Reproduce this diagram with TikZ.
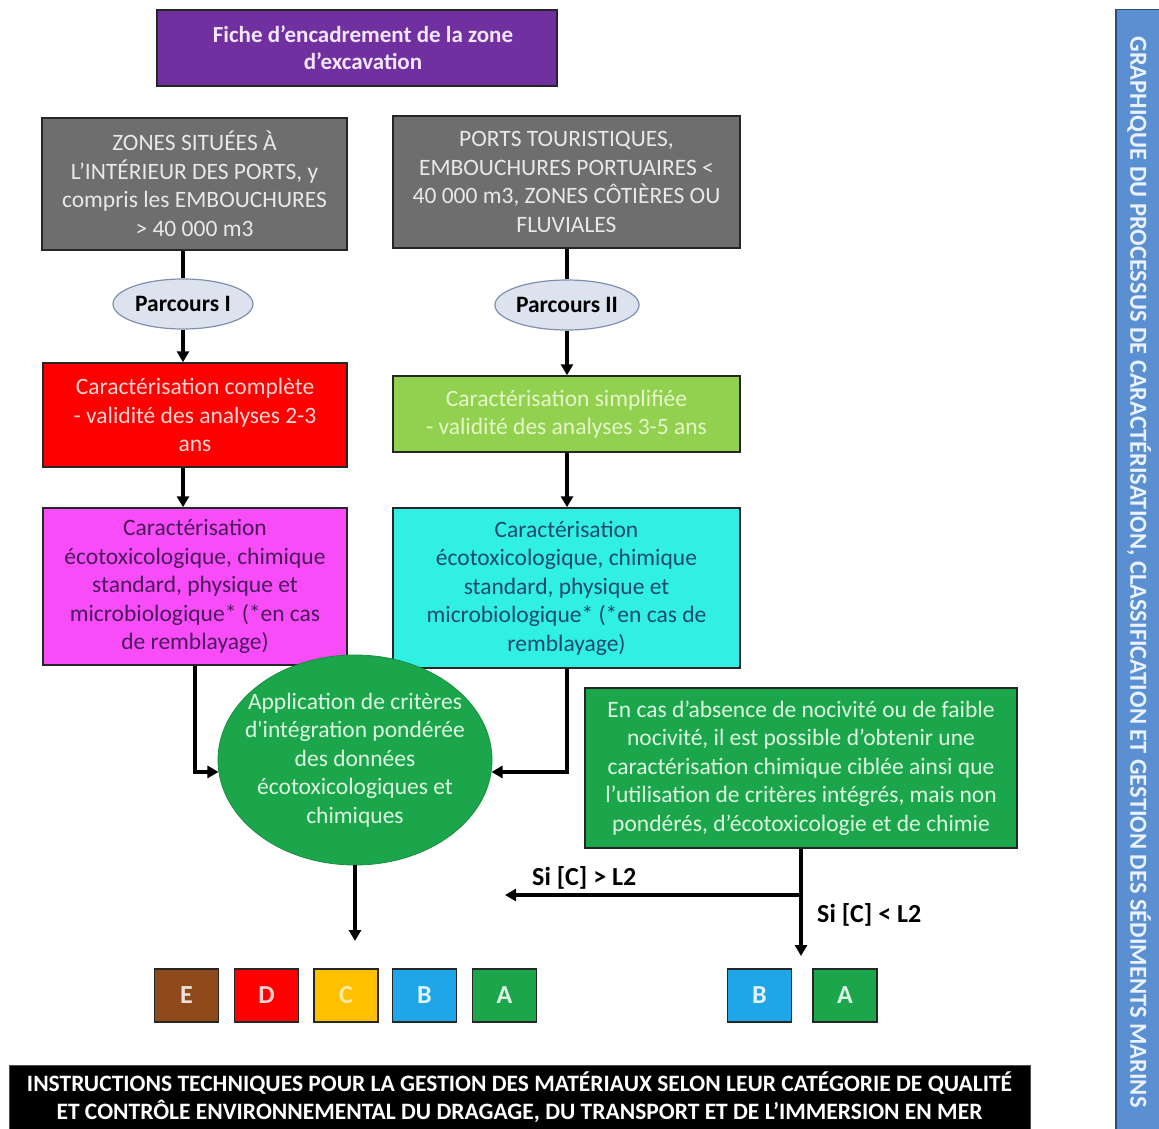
\documentclass[tikz,border=0pt]{standalone}
\usepackage{fontspec}
\setmainfont{Carlito}
\usetikzlibrary{arrows.meta,shapes.geometric,calc}

\definecolor{violetbox}{HTML}{7030A0}
\definecolor{violettxt}{HTML}{F3E6FF}
\definecolor{graybox}{HTML}{6E6E6E}
\definecolor{graytxt}{HTML}{E8E8E8}
\definecolor{pillfill}{HTML}{DCE3EE}
\definecolor{pilldraw}{HTML}{7F8FB0}
\definecolor{redbox}{HTML}{FF0000}
\definecolor{redtxt}{HTML}{FFD6D6}
\definecolor{limebox}{HTML}{92D050}
\definecolor{limetxt}{HTML}{E6F7C8}
\definecolor{magbox}{HTML}{F84CF8}
\definecolor{magtxt}{HTML}{4B1A5B}
\definecolor{cyanbox}{HTML}{30F0E6}
\definecolor{cyantxt}{HTML}{1B4A6B}
\definecolor{greenbox}{HTML}{1CA64C}
\definecolor{greentxt}{HTML}{DDF7E0}
\definecolor{catE}{HTML}{8E4A1A}
\definecolor{catD}{HTML}{FF0000}
\definecolor{catC}{HTML}{FFC000}
\definecolor{catB}{HTML}{1EA6E8}
\definecolor{catA}{HTML}{1CA64C}
\definecolor{stripbox}{HTML}{5A8FD2}
\definecolor{striptxt}{HTML}{EAF1FF}
\definecolor{stripedge}{HTML}{2E4C7A}

\newcommand{\fbody}{\fontsize{23.5}{28.5}\selectfont}
\newcommand{\fhead}{\fontsize{23}{27}\selectfont\bfseries}
\newcommand{\fbold}{\fontsize{23.5}{28}\selectfont\bfseries}
\newcommand{\fcond}{\fontsize{26}{28}\selectfont\bfseries}

\begin{document}
\begin{tikzpicture}[x=1pt,y=-1pt,
  every node/.style={inner sep=0pt, align=center},
  box/.style={draw=black!85, line width=1.5pt, rectangle, font=\fbody},
  pill/.style={ellipse, draw=pilldraw, line width=1.2pt, fill=pillfill,
    minimum width=140pt, minimum height=50pt, font=\fbold},
  cat/.style={draw=black!85, line width=1.5pt, rectangle,
    minimum width=64pt, minimum height=53pt, font=\fcond},
  lbl/.style={font=\fcond, text=black},
  plain/.style={line width=3.5pt, draw=black},
  flow/.style={line width=3.5pt, draw=black, -{Triangle[length=11pt,width=12pt]}}
]
\useasboundingbox (0,0) rectangle (1159,1129);
\fill[white] (0,0) rectangle (1159,1129);

% header
\node[box, fill=violetbox, text=violettxt, font=\fhead,
  minimum width=400pt, minimum height=76pt] (head) at (357,48)
  {\hspace*{12pt}Fiche d’encadrement de la zone\\\hspace*{12pt}d’excavation};

% the two zone types
\node[box, fill=graybox, text=graytxt, minimum width=305pt, minimum height=132pt]
  (zin) at (194.5,184)
  {ZONES SITUÉES À\\L’INTÉRIEUR DES PORTS, y\\compris les EMBOUCHURES\\> 40 000 m3};
\node[box, fill=graybox, text=graytxt, minimum width=347pt, minimum height=132pt]
  (zout) at (566.5,182)
  {PORTS TOURISTIQUES,\\EMBOUCHURES PORTUAIRES <\\40 000 m3, ZONES CÔTIÈRES OU\\FLUVIALES};

% routes
\node[pill] (p1) at (183,304) {Parcours I};
\node[pill] (p2) at (567,305) {Parcours II};

% characterisation level
\node[box, fill=redbox, text=redtxt, minimum width=304pt, minimum height=104pt]
  (full) at (195,415)
  {Caractérisation complète\\- validité des analyses 2-3\\ans};
\node[box, fill=limebox, text=limetxt, minimum width=347pt, minimum height=76pt]
  (simple) at (566.5,414)
  {Caractérisation simplifiée\\- validité des analyses 3-5 ans};

% analyses
\node[box, fill=magbox, text=magtxt, minimum width=304pt, minimum height=157pt]
  (magan) at (195,586.5)
  {Caractérisation\\écotoxicologique, chimique\\standard, physique et\\microbiologique* (*en cas\\de remblayage)};
\node[box, fill=cyanbox, text=cyantxt, minimum width=347pt, minimum height=160pt]
  (cyan) at (566.5,588)
  {Caractérisation\\écotoxicologique, chimique\\standard, physique et\\microbiologique* (*en cas de\\remblayage)};

% weighted integration: the ellipse and its text
\node[ellipse, fill=greenbox, draw=greenbox!85!black, line width=0.8pt,
  minimum width=274pt, minimum height=210pt] (integ) at (355,760) {};
\node[text=greentxt, font=\fbody] (integtxt) at (integ.center)
  {Application de critères\\d\textquotesingle intégration pondérée\\des données\\écotoxicologiques et\\chimiques};

% low-hazard option
\node[box, fill=greenbox, text=greentxt, minimum width=432pt, minimum height=160pt]
  (lowtox) at (801,768)
  {En cas d’absence de nocivité ou de faible\\nocivité, il est possible d’obtenir une\\caractérisation chimique ciblée ainsi que\\l’utilisation de critères intégrés, mais non\\pondérés, d’écotoxicologie et de chimie};

% quality categories
\node[cat, fill=catE, text=catE!15!white] (cE) at (186.5,995.5) {E};
\node[cat, fill=catD, text=catD!18!white] (cD) at (266.5,995.5) {D};
\node[cat, fill=catC, text=catC!35!white] (cC) at (346,995.5) {C};
\node[cat, fill=catB, text=catB!12!white] (cB) at (424.5,995.5) {B};
\node[cat, fill=catA, text=catA!15!white] (cA) at (504.5,995.5) {A};
\node[cat, fill=catB, text=catB!12!white] (rB) at (759.5,995.5) {B};
\node[cat, fill=catA, text=catA!15!white] (rA) at (845,995.5) {A};

% footer and side title
\node[rectangle, fill=black, draw=black!70, line width=1pt, text=white,
  font=\fontsize{23.5}{28}\selectfont\bfseries,
  minimum width=1021pt, minimum height=64pt] (foot) at (519.5,1097.5)
  {INSTRUCTIONS TECHNIQUES POUR LA GESTION DES MATÉRIAUX SELON LEUR CATÉGORIE DE QUALITÉ\\
   ET CONTRÔLE ENVIRONNEMENTAL DU DRAGAGE, DU TRANSPORT ET DE L’IMMERSION EN MER};
\node[rectangle, rotate=-90, fill=stripbox, draw=stripedge, line width=1.5pt,
  text=striptxt, font=\fontsize{24.5}{26}\selectfont\bfseries,
  minimum width=1125pt, minimum height=46pt] (side) at (1139,572)
  {GRAPHIQUE DU PROCESSUS DE CARACTÉRISATION, CLASSIFICATION ET GESTION DES SÉDIMENTS MARINS};

% connectors, left route
\draw[plain] (zin.south -| p1) -- (p1.north);
\draw[flow] (p1.south) -- (p1.south |- full.north);
\draw[flow] (full.south -| p1) -- (magan.north -| p1);
\draw[flow] (magan.south) |- (integ.185);

% connectors, right route
\draw[plain] (zout.south -| p2) -- (p2.north);
\draw[flow] (p2.south) -- (p2.south |- simple.north);
\draw[flow] (simple.south -| p2) -- (cyan.north -| p2);
\draw[flow] (cyan.south -| p2) |- (integ.355);

% to the categories
\coordinate (catin) at (355,941);
\draw[flow] (integ.south) -- (catin);

% low-hazard branch
\coordinate (fork) at (801,895);
\coordinate (backleft) at (505,895);
\coordinate (lowin) at (801,956);
\draw[flow] (lowtox.south) -- (lowin);
\draw[flow] (fork) -- (backleft);
\node[lbl, anchor=south west] (gt) at (532,890) {Si [C] > L2};
\node[lbl, anchor=west] (lt) at (817,915) {Si [C] < L2};
\end{tikzpicture}
\end{document}
